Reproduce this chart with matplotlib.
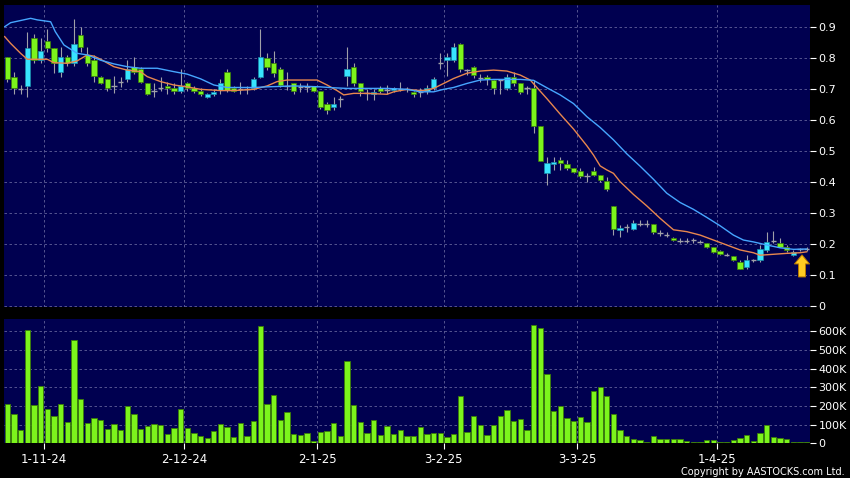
import matplotlib
matplotlib.use('Agg')
import matplotlib.pyplot as plt

# daily candles, 121 trading days (late Oct 24 .. Apr 25)
opens = [.801, .739, .700, .710, .862, .792, .854, .832, .753, .801,
         .784, .872, .809, .792, .739, .730, .709, .723, .730, .771,
         .762, .720, .694, .701, .710, .701, .692, .717, .701, .692,
         .672, .682, .696, .753, .701, .698, .698, .701, .739, .800,
         .782, .762, .709, .720, .704, .704, .709, .692, .650, .640,
         .666, .741, .771, .720, .685, .683, .701, .696, .696, .698,
         .698, .690, .690, .694, .701, .782, .792, .792, .843, .760,
         .771, .733, .739, .728, .728, .701, .739, .720, .701, .701,
         .581, .429, .456, .470, .457, .445, .435, .418, .435, .422,
         .402, .322, .244, .255, .249, .263, .264, .264, .235, .227,
         .220, .210, .209, .212, .206, .203, .190, .175, .165, .160,
         .142, .124, .147, .147, .180, .210, .203, .190, .164, .182,
         .183]
highs = [.801, .755, .712, .882, .875, .862, .891, .832, .835, .809,
         .925, .900, .835, .809, .741, .730, .741, .739, .792, .801,
         .771, .720, .717, .739, .723, .717, .762, .723, .708, .701,
         .685, .698, .730, .762, .708, .723, .708, .739, .892, .814,
         .822, .771, .755, .720, .717, .717, .709, .692, .658, .672,
         .675, .833, .782, .720, .698, .698, .708, .712, .704, .723,
         .704, .694, .701, .712, .739, .814, .814, .846, .846, .762,
         .773, .747, .744, .730, .730, .747, .755, .720, .709, .728,
         .581, .481, .481, .481, .470, .445, .443, .427, .448, .422,
         .416, .322, .260, .265, .276, .276, .276, .264, .244, .239,
         .222, .220, .217, .220, .212, .203, .190, .179, .169, .160,
         .147, .163, .152, .196, .239, .241, .220, .195, .179, .185,
         .190]
lows = [.723, .682, .682, .672, .782, .782, .819, .752, .739, .774,
        .774, .819, .774, .723, .715, .694, .685, .704, .723, .747,
        .717, .680, .672, .694, .682, .682, .687, .694, .686, .675,
        .669, .675, .682, .690, .690, .682, .682, .696, .733, .760,
        .739, .704, .696, .682, .690, .690, .690, .633, .620, .631,
        .640, .709, .709, .675, .663, .663, .686, .682, .690, .694,
        .690, .672, .674, .682, .696, .762, .741, .787, .755, .744,
        .733, .722, .712, .682, .682, .696, .709, .682, .682, .558,
        .467, .389, .438, .438, .438, .427, .411, .400, .417, .400,
        .370, .228, .223, .239, .244, .256, .255, .233, .225, .222,
        .210, .202, .201, .203, .201, .185, .171, .164, .160, .145,
        .117, .120, .142, .142, .174, .201, .188, .174, .161, .177,
        .177]
closes = [.730, .701, .700, .832, .792, .822, .832, .784, .801, .782,
          .843, .835, .782, .741, .720, .701, .709, .723, .762, .755,
          .723, .682, .694, .701, .701, .692, .709, .701, .692, .682,
          .682, .690, .720, .696, .694, .698, .698, .730, .801, .771,
          .752, .712, .709, .692, .704, .704, .692, .640, .631, .650,
          .666, .762, .720, .692, .685, .690, .692, .696, .701, .698,
          .698, .682, .690, .701, .730, .782, .801, .833, .762, .760,
          .744, .733, .730, .701, .728, .739, .720, .690, .701, .581,
          .467, .459, .465, .459, .445, .430, .419, .418, .422, .405,
          .375, .246, .252, .255, .268, .263, .264, .237, .235, .227,
          .212, .210, .209, .212, .206, .188, .173, .167, .165, .147,
          .118, .149, .147, .182, .206, .210, .190, .180, .174, .182,
          .183]
# volume in thousands of shares
volumes = [209, 157, 71, 604, 205, 304, 182, 146, 209, 113,
           550, 236, 111, 138, 125, 77, 102, 73, 200, 157,
           75, 91, 102, 96, 50, 80, 186, 82, 54, 39,
           29, 64, 104, 89, 32, 107, 39, 118, 627, 209,
           257, 125, 166, 52, 46, 55, 12, 61, 64, 107,
           39, 441, 205, 113, 57, 125, 46, 93, 52, 71,
           41, 41, 89, 50, 57, 57, 34, 48, 252, 61,
           145, 98, 46, 100, 146, 179, 120, 130, 71, 632,
           618, 371, 173, 202, 138, 120, 139, 112, 279, 300,
           254, 159, 70, 41, 25, 18, 9, 39, 23, 23,
           23, 23, 11, 5, 5, 16, 16, 9, 7, 18,
           29, 45, 11, 54, 98, 36, 29, 21, 9, 9,
           9]

# moving averages, read at points along the lines
ma_fast_x = [-0.4, 0.5, 2, 3, 4.5, 6, 7, 9, 10.5, 12, 13, 14, 16, 18, 20, 21, 23, 25,
             27, 29, 32, 34, 37, 39, 40.5, 42, 46.5, 48, 49.5, 50.5, 52, 54, 57, 58,
             60, 62, 63, 64, 65.5, 67, 69, 71, 73, 75, 77, 78.5, 79.5, 81, 83, 85,
             87, 88, 89, 90, 91, 92, 94, 96, 98, 100, 102, 104, 106, 108, 110, 112,
             113, 115, 117, 119, 120]
ma_fast = [.868, .846, .814, .795, .795, .795, .784, .782, .790, .809, .805, .795, .771,
           .760, .755, .739, .723, .712, .706, .698, .694, .694, .698, .709, .723, .728,
           .728, .712, .694, .680, .685, .685, .682, .690, .698, .694, .696, .701, .717,
           .733, .750, .757, .760, .757, .744, .728, .704, .668, .618, .570, .516, .486,
           .451, .438, .427, .400, .359, .322, .282, .245, .239, .228, .212, .196, .180,
           .171, .163, .166, .169, .171, .174]
ma_slow_x = [-0.4, 0.5, 2, 3.5, 4.5, 6.5, 7.2, 8.5, 10.5, 12, 14, 16, 18, 20, 22.5, 25,
             27, 29, 31, 33, 37, 39, 43, 47, 49, 51, 57, 60, 62, 64, 65.5, 67, 69, 71,
             73, 77, 79, 81, 83, 85, 87, 89, 91, 93, 95, 97, 99, 101, 103, 105, 107,
             109, 110.5, 112, 114, 116, 118, 120]
ma_slow = [.900, .913, .920, .927, .922, .916, .884, .841, .814, .809, .792, .780, .771,
           .766, .766, .755, .747, .732, .712, .704, .704, .706, .709, .706, .703, .701,
           .701, .698, .690, .690, .698, .704, .717, .728, .730, .730, .727, .703, .680,
           .652, .610, .575, .535, .490, .450, .408, .363, .333, .311, .285, .258, .228,
           .212, .206, .196, .187, .182, .183]

date_labels = ['1-11-24', '2-12-24', '2-1-25', '3-2-25', '3-3-25', '1-4-25']
date_idx = [5, 26, 46, 65, 85, 106]

price_ticks = [0, .1, .2, .3, .4, .5, .6, .7, .8, .9]
vol_ticks = [0, 100, 200, 300, 400, 500, 600]

navy = '#000050'
green = '#7cf41c'
green_edge = '#3b7d08'
cyan = '#38e4ff'
cyan_edge = '#1a8ca8'
wick = '#a0a0a8'
grid_kw = dict(color='#62629a', linestyle=(0, (3, 3)), linewidth=0.6)

fig = plt.figure(figsize=(8.5, 4.78), dpi=100, facecolor='black')
ax = fig.add_axes([4 / 850, 1 - 307 / 478, 806 / 850, 302 / 478])
axv = fig.add_axes([4 / 850, 1 - 443.3 / 478, 806 / 850, 124.3 / 478], sharex=ax)

for a in (ax, axv):
    a.set_facecolor(navy)
    for s in a.spines.values():
        s.set_visible(False)
    a.yaxis.tick_right()
    a.tick_params(axis='y', colors='white', length=4, width=0.8, pad=2, labelsize=8)
    a.set_axisbelow(True)
    a.grid(True, **grid_kw)

xs = list(range(len(closes)))

# candles
ax.vlines(xs, lows, highs, color=wick, linewidth=0.8, zorder=2)
up = [i for i in xs if closes[i] > opens[i]]
down = [i for i in xs if closes[i] < opens[i]]
flat = [i for i in xs if closes[i] == opens[i]]
ax.bar(up, [closes[i] - opens[i] for i in up], bottom=[opens[i] for i in up],
       width=0.8, color=cyan, edgecolor=cyan_edge, linewidth=0.5, zorder=3)
ax.bar(down, [opens[i] - closes[i] for i in down], bottom=[closes[i] for i in down],
       width=0.8, color=green, edgecolor=green_edge, linewidth=0.5, zorder=3)
ax.hlines([closes[i] for i in flat], [i - 0.4 for i in flat], [i + 0.4 for i in flat],
          color=wick, linewidth=1, zorder=3)

ax.plot(ma_fast_x, ma_fast, color='#e8874e', linewidth=1, zorder=4)
ax.plot(ma_slow_x, ma_slow, color='#46a6ff', linewidth=1, zorder=4)

# latest-price marker
ax.annotate('', xy=(119.3, 0.164), xytext=(119.3, 0.093),
            arrowprops=dict(arrowstyle='simple,head_width=1.08,head_length=0.65,tail_width=0.5',
                            fc='#ffcc22', ec='#b87800', lw=0.7, shrinkA=0, shrinkB=0,
                            mutation_scale=10), zorder=5)

ax.set_xlim(-0.5, 120.5)
ax.set_ylim(-0.004, 0.970)
ax.set_yticks(price_ticks)
ax.set_yticklabels(['0' if v == 0 else f'{v:.1f}' for v in price_ticks])
ax.set_xticks([i + 0.5 for i in date_idx])
ax.tick_params(axis='x', length=0, labelbottom=False)

# volume
axv.bar(xs, volumes, width=0.8, color=green, edgecolor=green_edge, linewidth=0.6, zorder=3)
axv.set_ylim(0, 665)
axv.set_yticks(vol_ticks)
axv.set_yticklabels(['0' if v == 0 else f'{v}K' for v in vol_ticks])
axv.set_xticks([i + 0.5 for i in date_idx])
axv.set_xticklabels(date_labels)
axv.tick_params(axis='x', colors='white', length=4, width=0.8, pad=3, labelsize=8.5)

fig.text(845 / 850, 1 - 472 / 478, 'Copyright by AASTOCKS.com Ltd.', color='white',
         fontsize=7, ha='right', va='center')

fig.savefig('out.png', dpi=100, facecolor='black')
